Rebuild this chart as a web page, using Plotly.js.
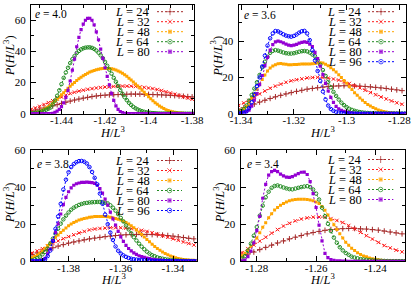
<!DOCTYPE html>
<html><head><meta charset="utf-8">
<script src="https://cdn.plot.ly/plotly-3.0.1.min.js"></script>
<style>html,body{margin:0;padding:0;background:#fff}</style>
</head><body><div id="chart" style="width:415px;height:288px"></div>
<script>
// ---------------- DATA ----------------
// Panel e = 4.0
const x_e40 = [-1.454,-1.453,-1.452,-1.451,-1.450,-1.449,-1.448,-1.447,-1.446,-1.445,-1.444,-1.443,-1.442,-1.441,-1.440,-1.439,-1.438,-1.437,-1.436,-1.435,-1.434,-1.433,-1.432,-1.431,-1.430,-1.429,-1.428,-1.427,-1.426,-1.425,-1.424,-1.423,-1.422,-1.421,-1.420,-1.419,-1.418,-1.417,-1.416,-1.415,-1.414,-1.413,-1.412,-1.411,-1.410,-1.409,-1.408,-1.407,-1.406,-1.405,-1.404,-1.403,-1.402,-1.401,-1.400,-1.399,-1.398,-1.397,-1.396,-1.395,-1.394,-1.393,-1.392,-1.391,-1.390,-1.389,-1.388,-1.387,-1.386,-1.385,-1.384,-1.383,-1.382,-1.381,-1.380,-1.379];
const e40_L24 = [1.7,2,2.3,2.6,2.9,3.2,3.6,3.9,4.3,4.6,5,5.4,5.8,6.2,6.6,7,7.4,7.8,8.1,8.5,8.8,9.1,9.4,9.7,10,10.3,10.5,10.8,11,11.2,11.4,11.5,11.7,11.8,11.9,12,12.1,12.2,12.2,12.3,12.3,12.4,12.4,12.5,12.5,12.5,12.6,12.6,12.6,12.6,12.6,12.5,12.5,12.5,12.4,12.4,12.3,12.3,12.2,12.2,12.1,12,11.9,11.9,11.8,11.7,11.6,11.5,11.4,11.3,11.2,11.1,11,10.9,10.8,10.7];
const e40_L32 = [2.8,3.3,3.7,4.2,4.7,5.3,5.9,6.5,7.1,7.7,8.3,8.9,9.5,10.1,10.7,11.3,11.9,12.4,13,13.4,13.8,14.2,14.5,14.8,15.1,15.4,15.7,15.9,16.1,16.3,16.5,16.7,16.8,17,17.1,17.2,17.3,17.4,17.5,17.6,17.6,17.7,17.7,17.7,17.7,17.7,17.7,17.6,17.5,17.4,17.2,17.1,16.9,16.7,16.5,16.3,16.1,15.8,15.5,15.2,14.9,14.5,14.1,13.7,13.3,12.9,12.5,12.1,11.7,11.3,10.9,10.5,10.1,9.7,9.3,8.9];
const e40_L48 = [0.4,0.6,0.8,1.0,1.3,2,2.8,3.6,4.5,5.5,6.8,8,9.3,10.7,12.1,13.5,14.9,16.3,17.6,18.9,20.1,21.3,22.4,23.4,24.3,25.2,26,26.7,27.3,27.8,28.2,28.5,28.8,29,29.1,29.1,29,28.8,28.5,28.1,27.5,26.8,26,25,24,22.8,21.6,20.4,19.1,17.8,16.5,15.1,13.7,12.3,10.9,9.6,8.3,7.1,6,5,4.1,3.3,2.6,2,1.6,1.2,0.9,0.7,0.5,0.4,0.3,0.2,0.2,0.1,0.1,0.1];
const e40_L64 = [0.2,0.3,0.5,0.7,1,1.4,2,2.6,3.2,4,6,8.5,11.5,15,19,23,26.5,29.5,32.5,35,37,39,40.3,41.3,42,42.4,42.6,42.6,42.3,41.6,40.6,39.2,37.5,35.6,33.3,30.8,28.3,25.7,23,20.5,17.8,15.2,12.8,10.6,8.7,7,5.6,4.4,3.5,2.7,2.1,1.6,1.2,0.9,0.7,0.5,0.4,0.3,0.2,0.15,0.1,0.1,0.1,0.1,0.05,0.05,0.05,0.05,0,0,0,0,0,0,0,0];
const e40_L80 = [0,0,0,0,0,0,0,0,0,0,0.3,0.8,1.6,2.8,4.5,7,10.5,15,21,28,35,43,49,54,57.5,60,61.2,61.3,60,57,52.5,47.5,41.5,35.5,29.5,24,18.5,13,8.5,5,2.8,1.4,0.7,0.3,0.1,0,0,0,0,0,0,0,0,0,0,0,0,0,0,0,0,0,0,0,0,0,0,0,0,0,0,0,0,0,0,0];

// Panel e = 3.6
const x_e36 = [-1.341,-1.340,-1.339,-1.338,-1.337,-1.336,-1.335,-1.334,-1.333,-1.332,-1.331,-1.330,-1.329,-1.328,-1.327,-1.326,-1.325,-1.324,-1.323,-1.322,-1.321,-1.320,-1.319,-1.318,-1.317,-1.316,-1.315,-1.314,-1.313,-1.312,-1.311,-1.310,-1.309,-1.308,-1.307,-1.306,-1.305,-1.304,-1.303,-1.302,-1.301,-1.300,-1.299,-1.298,-1.297,-1.296,-1.295,-1.294,-1.293,-1.292,-1.291,-1.290,-1.289,-1.288,-1.287,-1.286,-1.285,-1.284,-1.283,-1.282,-1.281,-1.280,-1.279,-1.278];
const e36_L24 = [2.4,2.9,3.3,3.8,4.2,4.7,5.3,5.8,6.4,6.9,7.4,7.9,8.4,8.8,9.3,9.7,10.1,10.5,10.9,11.2,11.6,11.9,12.3,12.6,12.9,13.2,13.5,13.7,13.9,14.1,14.3,14.5,14.7,14.8,15,15.1,15.2,15.3,15.3,15.4,15.4,15.4,15.4,15.4,15.3,15.3,15.2,15.1,15,14.9,14.8,14.7,14.5,14.4,14.2,14.1,13.9,13.7,13.5,13.3,13.1,12.9,12.7,12.5];
const e36_L32 = [4.5,5.2,5.9,6.6,7.3,8.2,9.1,10,10.9,11.7,12.5,13.3,14,14.6,15.2,15.8,16.3,16.8,17.3,17.7,18.1,18.4,18.7,19,19.2,19.5,19.7,19.8,19.9,20,20,20,19.9,19.8,19.6,19.4,19.1,18.8,18.5,18.1,17.6,17.1,16.6,16,15.4,14.8,14.2,13.6,12.9,12.3,11.6,11,10.4,9.8,9.2,8.6,8.1,7.5,7,6.5,6,5.6,5.2,4.9];
const e36_L48 = [1.1,1.8,2.8,4,6.2,8.4,10.8,13.5,16.2,18.8,21.3,23.5,25.2,26.3,27,27.5,27.6,27.4,27.2,27,27,27.1,27.1,27.2,27.3,27.3,27.3,27.4,27.5,27.7,27.9,28,27.9,27.2,26.4,25.3,24.2,22.9,21.4,19.9,18.3,16.7,15,13.3,11.6,10.1,8.7,7.4,6.1,5.1,4.2,3.4,2.7,2.1,1.6,1.2,0.9,0.7,0.5,0.4,0.3,0.2,0.15,0.1];
const e36_L64 = [0.8,1.5,2.5,4.5,7.2,10.3,13.8,17.3,21.3,25.5,28.6,31.3,33.5,34.6,35,34.7,34.2,33.7,33.3,33.1,33.1,33.3,33.7,34.1,34.4,34.5,34.3,33.6,32.6,31.6,29.5,27,24,20.8,17.5,14.5,12,9.8,7.8,6.1,4.7,3.6,2.7,2.1,1.6,1.2,0.9,0.7,0.5,0.4,0.3,0.25,0.2,0.2,0.15,0.15,0.1,0.1,0.1,0.1,0.1,0.05,0.05,0.05];
const e36_L80 = [0.2,0.4,0.8,1.3,2,4.2,7.5,11,16,21,26.5,31,35,38,39.5,40,39.6,39,38.3,37.8,37.5,37.7,38.2,38.8,39.3,39.5,39.3,38.3,36.9,33.8,30.3,26.2,21.5,16.7,12.5,9,6.2,4,2.7,1.8,1.3,0.9,0.6,0.3,0.2,0.1,0.1,0.05,0.05,0,0,0,0,0,0,0,0,0,0,0,0,0,0,0];
const e36_L96 = [0.1,0.2,0.5,1.2,3,6.3,10.5,15.2,20,26,32,37.5,41.5,44.2,45.5,45.3,44.5,43.7,43,42.6,42.4,42.8,43.6,44.6,45.4,45.6,44.2,40.5,35,29.3,23.5,18,12.2,7.8,4.5,2.6,1.6,1,0.6,0.4,0.2,0.1,0.1,0.05,0,0,0,0,0,0,0,0,0,0,0,0,0,0,0,0,0,0,0,0];

// Panel e = 3.8
const x_e38 = [-1.394,-1.393,-1.392,-1.391,-1.390,-1.389,-1.388,-1.387,-1.386,-1.385,-1.384,-1.383,-1.382,-1.381,-1.380,-1.379,-1.378,-1.377,-1.376,-1.375,-1.374,-1.373,-1.372,-1.371,-1.370,-1.369,-1.368,-1.367,-1.366,-1.365,-1.364,-1.363,-1.362,-1.361,-1.360,-1.359,-1.358,-1.357,-1.356,-1.355,-1.354,-1.353,-1.352,-1.351,-1.350,-1.349,-1.348,-1.347,-1.346,-1.345,-1.344,-1.343,-1.342,-1.341,-1.340,-1.339,-1.338,-1.337,-1.336,-1.335,-1.334,-1.333,-1.332,-1.331];
const e38_L24 = [3.6,4,4.5,5,5.4,5.8,6.3,6.8,7.3,7.7,8.2,8.6,9,9.4,9.8,10.1,10.4,10.7,11,11.3,11.6,11.8,12.1,12.3,12.5,12.7,12.9,13.1,13.3,13.4,13.6,13.7,13.9,14,14.1,14.2,14.3,14.4,14.4,14.5,14.5,14.5,14.5,14.5,14.5,14.5,14.4,14.4,14.3,14.2,14.1,14,13.9,13.7,13.6,13.4,13.2,13,12.8,12.6,12.4,12.2,12.1,11.9];
const e38_L32 = [4.5,5,5.6,6.1,6.8,7.5,8.2,8.9,9.6,10.3,11,11.6,12.2,12.8,13.3,13.8,14.3,14.8,15.3,15.7,16.1,16.5,16.9,17.2,17.4,17.6,17.7,17.8,17.9,18,18.1,18.1,18.1,18.1,18.1,18,17.9,17.8,17.6,17.4,17.2,17,16.7,16.4,16.1,15.8,15.4,15,14.6,14.2,13.8,13.4,13,12.6,12.1,11.7,11.3,10.8,10.4,10,9.6,9.2,8.8,8.3];
const e38_L48 = [1.9,2.6,3.4,4.3,5.5,7,8.5,10,11.5,12.9,14.2,15.5,16.8,18,19.1,20.1,20.9,21.6,22.2,22.7,23.1,23.4,23.7,23.9,24.1,24.2,24.2,24.2,24.1,24,23.8,23.5,23.1,22.7,22.2,21.6,20.9,20.1,19.2,18.1,16.9,15.7,14.4,13.1,11.8,10.5,9.2,8,6.9,5.9,5,4.2,3.5,2.9,2.4,1.9,1.5,1.2,1,0.8,0.7,0.6,0.5,0.4];
const e38_L64 = [0.5,1,1.7,2.5,3.8,5.1,6.8,9.5,12.2,15,17.6,20.3,22.6,24.6,26.3,27.8,28.9,29.7,30.4,30.9,31.3,31.5,31.7,31.8,31.9,32,32,31.9,31.6,31.2,30.2,28.9,27.3,25.4,23.4,21.5,19.3,17.2,15.1,13,11.2,9.5,7.9,6.5,5.2,4.2,3.3,2.7,2.1,1.7,1.4,1.1,0.9,0.7,0.55,0.45,0.35,0.3,0.25,0.2,0.15,0.1,0.1,0.1];
const e38_L80 = [0.05,0.1,0.2,0.4,0.6,1.6,4,6.5,11,15.5,20.2,25.5,30.5,34.5,37.5,39.6,41,41.8,42.2,42.5,42.6,42.7,42.6,42.4,42,41,39.2,36.7,33.5,30.3,26.5,22.9,19.5,16.1,13.2,10.7,8.6,6.9,5.6,4.5,3.7,3,2.5,2.1,1.7,1.4,1.1,0.9,0.7,0.6,0.5,0.4,0.3,0.25,0.2,0.2,0.15,0.1,0.1,0.1,0.1,0.1,0.1,0.1];
const e38_L96 = [0,0.05,0.1,0.2,0.4,1,2.8,5.8,11,17.5,24.2,31,38.7,44,48,50.8,52.4,53.4,54,54.1,53.7,52.7,50.8,48.2,45,41.5,36.5,31,25.2,20,15.5,11.5,8,5.7,4.2,3.2,2.4,1.8,1.4,1.1,0.9,0.75,0.6,0.5,0.45,0.4,0.3,0.25,0.2,0.15,0.1,0.1,0.1,0.1,0.1,0.05,0.05,0.05,0.05,0,0,0,0,0];

// Panel e = 3.4
const x_e34 = [-1.285,-1.284,-1.283,-1.282,-1.281,-1.280,-1.279,-1.278,-1.277,-1.276,-1.275,-1.274,-1.273,-1.272,-1.271,-1.270,-1.269,-1.268,-1.267,-1.266,-1.265,-1.264,-1.263,-1.262,-1.261,-1.260,-1.259,-1.258,-1.257,-1.256,-1.255,-1.254,-1.253,-1.252,-1.251,-1.250,-1.249,-1.248,-1.247,-1.246,-1.245,-1.244,-1.243,-1.242,-1.241,-1.240,-1.239,-1.238,-1.237,-1.236,-1.235,-1.234,-1.233,-1.232,-1.231,-1.230];
const e34_L24 = [2.8,3.3,3.9,4.5,5,5.6,6.3,6.9,7.5,8.1,8.7,9.3,9.9,10.5,11,11.6,12.1,12.6,13,13.5,13.9,14.4,14.8,15.2,15.5,15.8,16.1,16.4,16.7,16.9,17.1,17.3,17.4,17.5,17.6,17.7,17.7,17.7,17.7,17.6,17.5,17.5,17.4,17.2,17.1,17,16.8,16.6,16.3,16.1,15.8,15.6,15.3,15,14.8,14.5];
const e34_L32 = [4.7,5.7,6.8,7.8,8.8,9.8,10.9,12,13,14.1,15.2,16.2,17.1,18.1,19,19.8,20.5,21.2,21.8,22.3,22.8,23.1,23.4,23.6,23.8,23.9,23.9,23.9,23.7,23.4,23,22.6,22,21.5,20.9,20.2,19.3,18.4,17.5,16.6,15.6,14.7,13.8,12.9,12,11.1,10.2,9.3,8.5,7.8,7.2,6.6,6,5.5,5.1,4.7];
const e34_L48 = [3,4.4,5.9,7.8,10,12.5,15.4,18.3,20.8,23.5,25.7,27.6,29,30.2,31.2,32,32.6,33,33.3,33.4,33.5,33.5,33.3,33,32.6,32,31.2,29.6,27.5,25,22.4,19.7,17.1,14.9,12.5,10.3,8.6,7,5.8,4.6,3.7,2.9,2.4,1.8,1.4,1.1,0.8,0.6,0.45,0.35,0.3,0.2,0.2,0.15,0.1,0.1];
const e34_L64 = [1.5,2.8,5.7,9.5,13.8,18.5,24.6,30,34.5,37.5,39.6,40.6,40.9,40.4,39.8,39.3,38.9,38.8,39.2,39.6,40,40.3,40.5,40,38.7,36.5,33.3,28.9,24.3,20.2,16.3,12.8,10,7.6,5.9,4.5,3.5,2.5,2,1.6,1.2,1,0.8,0.6,0.5,0.4,0.3,0.25,0.2,0.15,0.1,0.1,0.1,0.1,0.1,0.1];
const e34_L80 = [0.2,0.7,2.5,5.5,10,16.5,24.2,34,41.5,46.5,48.3,49,48.3,47,46,45.4,45.2,45.6,46.5,47.3,48,48.1,46.8,43,36.5,29,19.5,11,4.3,2,0.9,0.5,0.3,0.2,0.1,0.05,0,0,0,0,0,0,0,0,0,0,0,0,0,0,0,0,0,0,0,0];

// Labels / ticks
const eLabels = ['4.0', '3.6', '3.8', '3.4'];
const xTickVals = [[-1.44,-1.42,-1.40,-1.38], [-1.34,-1.32,-1.30,-1.28], [-1.38,-1.36,-1.34], [-1.28,-1.26,-1.24]];
const xTickText = [['-1.44','-1.42','-1.4','-1.38'], ['-1.34','-1.32','-1.3','-1.28'], ['-1.38','-1.36','-1.34'], ['-1.28','-1.26','-1.24']];
const yTickVals = [0, 20, 40, 60];
const yTickText = ['0', '20', '40', '60'];

// ---------------- STYLE / LAYOUT ----------------
const W = 415, H = 288;
const style = {
  '24': {color:'#a52a2a', symbol:'cross-thin', size:4,   lw:1, step:2},
  '32': {color:'#ff1a1a', symbol:'x-thin',     size:3.5, lw:1, step:2},
  '48': {color:'#ffa500', symbol:'square',     size:3,   lw:0, step:1},
  '64': {color:'#228b22', symbol:'circle-open',size:3.5, lw:1, step:1},
  '80': {color:'#9400d3', symbol:'square',     size:3.2, lw:0, step:1},
  '96': {color:'#0000ff', symbol:'circle-open',size:3.5, lw:1, step:1}
};
const panels = [
  {x:x_e40, ys:{'24':e40_L24,'32':e40_L32,'48':e40_L48,'64':e40_L64,'80':e40_L80},
   xr:[-1.454,-1.379], yr:[0,70], px:[31,194.3], py:[4.7,113.7], eY:14, eX:33, legTop:11.7, legRight:152, smp:[157,183]},
  {x:x_e36, ys:{'24':e36_L24,'32':e36_L32,'48':e36_L48,'64':e36_L64,'80':e36_L80,'96':e36_L96},
   xr:[-1.341,-1.2775], yr:[0,60], px:[238.5,406], py:[4.7,113.7], eY:15.5, eX:242, legTop:11.7, legRight:364.3, smp:[368,394]},
  {x:x_e38, ys:{'24':e38_L24,'32':e38_L32,'48':e38_L48,'64':e38_L64,'80':e38_L80,'96':e38_L96},
   xr:[-1.3945,-1.331], yr:[0,60], px:[30.7,196.5], py:[150,261.3], eY:164, eX:35, legTop:160.5, legRight:151.7, smp:[157,182]},
  {x:x_e34, ys:{'24':e34_L24,'32':e34_L32,'48':e34_L48,'64':e34_L64,'80':e34_L80},
   xr:[-1.2855,-1.23], yr:[0,60], px:[240.5,405], py:[150,261.3], eY:164, eX:245, legTop:159.5, legRight:364.3, smp:[368,393.3]}
];
const serif = 'Liberation Serif, Times New Roman, serif';
const traces = [], annotations = [];
const layout = {
  width: W, height: H, margin: {l:0, r:0, t:0, b:0},
  paper_bgcolor: '#fff', plot_bgcolor: '#fff', showlegend: false,
  font: {family: serif, size: 11, color: '#000'}, annotations: annotations
};
const rowGap = 10;
panels.forEach((p, k) => {
  const n = k + 1, sfx = n === 1 ? '' : String(n);
  const ov = n + 4;
  const xd = [p.px[0]/W, p.px[1]/W], yd = [1 - p.py[1]/H, 1 - p.py[0]/H];
  const common = {showline:true, linecolor:'#000', linewidth:1, mirror:'ticks', ticks:'inside',
    ticklen:5, tickcolor:'#000', showgrid:false, zeroline:false, tickmode:'array',
    tickfont:{family:serif, size:11, color:'#000'}, fixedrange:true};
  layout['xaxis' + sfx] = Object.assign({}, common, {domain:xd, range:p.xr, anchor:'y'+sfx,
    tickvals: xTickVals[k], ticktext: xTickText[k], ticklabelstandoff:-4,
    minor:{ticks:'inside', ticklen:3, tickmode:'linear', tick0:0, dtick:0.01, tickcolor:'#000'}});
  layout['yaxis' + sfx] = Object.assign({}, common, {domain:yd, range:p.yr, anchor:'x'+sfx,
    tickvals: yTickVals, ticktext: yTickText, ticklabelstandoff:2,
    minor:{ticks:'inside', ticklen:3, tickmode:'linear', tick0:0, dtick:10, tickcolor:'#000'}});
  layout['xaxis' + ov] = {overlaying:'x'+sfx, anchor:'y'+ov, range:[0,1], visible:false, fixedrange:true};
  layout['yaxis' + ov] = {overlaying:'y'+sfx, anchor:'x'+ov, range:[0,1], visible:false, fixedrange:true};

  const keys = Object.keys(p.ys);
  keys.forEach((key, r) => {
    const s = style[key];
    const xs = p.x.filter((_, i) => i % s.step === 0);
    const ys = p.ys[key].filter((_, i) => i % s.step === 0);
    const mk = {symbol:s.symbol, size:s.size, color:s.color, line:{color:s.color, width:s.lw}};
    traces.push({type:'scatter', mode:'lines+markers', x:xs, y:ys, xaxis:'x'+sfx, yaxis:'y'+sfx,
      line:{color:s.color, width:1, dash:'2px,2px'}, marker:mk, hoverinfo:'skip'});
    // key sample
    const pw = p.px[1]-p.px[0], ph = p.py[1]-p.py[0];
    const rowY = p.legTop + r*rowGap;
    const fy = 1 - (rowY - p.py[0]) / ph;
    const fa = (p.smp[0]-p.px[0])/pw, fb = (p.smp[1]-p.px[0])/pw;
    traces.push({type:'scatter', mode:'lines+markers', x:[fa,(fa+fb)/2,fb], y:[fy,fy,fy],
      xaxis:'x'+ov, yaxis:'y'+ov, line:{color:s.color, width:1, dash:'2px,2px'},
      marker:Object.assign({}, mk, {size:[0, s.size+1, 0]}), hoverinfo:'skip', cliponaxis:false});
    annotations.push({xref:'paper', yref:'paper', x:p.legRight/W, y:1 - rowY/H, xanchor:'right', yanchor:'middle',
      text:'<i>L</i> = ' + key, showarrow:false, font:{family:serif, size:12.5, color:'#000'}});
  });
  annotations.push({xref:'paper', yref:'paper', x:p.eX/W, y:1 - p.eY/H, xanchor:'left', yanchor:'middle',
    text:'<i>e</i> = ' + eLabels[k], showarrow:false, font:{family:serif, size:11.5, color:'#000'}});
  annotations.push({xref:'paper', yref:'paper', x:(p.px[0]+p.px[1])/2/W, y:1 - (p.py[1]+18)/H,
    xanchor:'center', yanchor:'middle', text:'<i>H</i>/<i>L</i><sup>3</sup>', showarrow:false,
    font:{family:serif, size:12.5, color:'#000'}});
  annotations.push({xref:'paper', yref:'paper', x:(p.px[0]-22)/W, y:1 - ((p.py[0]+p.py[1])/2 - 3)/H,
    xanchor:'center', yanchor:'middle', textangle:-90, text:'<i>P</i>(<i>H</i>/<i>L</i><sup>3</sup>)',
    showarrow:false, font:{family:serif, size:12.5, color:'#000'}});
});
Plotly.newPlot('chart', traces, layout, {staticPlot:true, displayModeBar:false});
</script></body></html>
